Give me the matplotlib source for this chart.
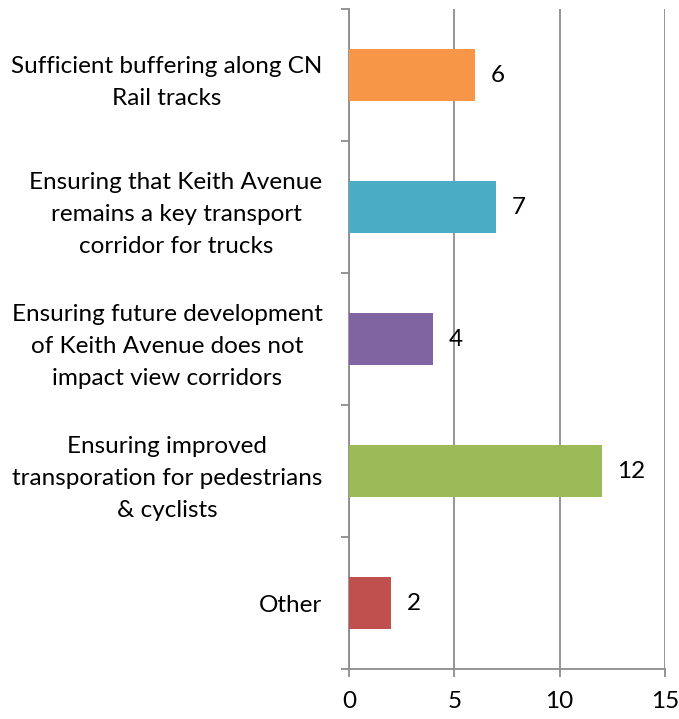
import matplotlib.pyplot as plt
import numpy as np

categories = [
    "Sufficient buffering along CN\nRail tracks",
    "Ensuring that Keith Avenue\nremains a key transport\ncorridor for trucks",
    "Ensuring future development\nof Keith Avenue does not\nimpact view corridors",
    "Ensuring improved\ntransporation for pedestrians\n& cyclists",
    "Other",
]
counts = [6, 7, 4, 12, 2]
colors = ["#F79646", "#4BACC6", "#8064A2", "#9BBB59", "#C0504D"]
x_ticks = [0, 5, 10, 15]


def main():
    plt.rcParams["font.family"] = ["Lato", "DejaVu Sans"]
    fig = plt.figure(figsize=(6.79, 7.19), dpi=100)
    ax = fig.add_axes([349 / 679, 1 - 669 / 719, 316 / 679, 660 / 719])

    y = np.arange(len(categories))
    ax.barh(y, counts, height=0.4, color=colors, zorder=3)
    for yi, v in zip(y, counts):
        ax.annotate(str(v), (v, yi), xytext=(11, 0), textcoords="offset points",
                    va="center", ha="left", fontsize=17.5)

    gray = "#8c8c8c"
    ax.set_xlim(0, 15)
    ax.set_ylim(len(categories) - 0.5, -0.5)
    ax.set_xticks(x_ticks)
    ax.xaxis.grid(True, color=gray, linewidth=1.3, zorder=0)
    ax.tick_params(axis="x", length=6, width=1.3, color=gray, labelsize=17.5, pad=10)

    ax.set_yticks(y)
    ax.set_yticklabels(categories, multialignment="center", linespacing=1.65)
    ax.set_yticks(np.arange(len(categories) + 1) - 0.5, minor=True)
    ax.tick_params(axis="y", which="major", length=0, labelsize=17.5, pad=19)
    ax.tick_params(axis="y", which="minor", length=6, width=1.3, color=gray)

    for side in ["top", "right"]:
        ax.spines[side].set_visible(False)
    for side in ["left", "bottom"]:
        ax.spines[side].set_color(gray)
        ax.spines[side].set_linewidth(1.3)

    fig.savefig("out.png", dpi=100)


if __name__ == "__main__":
    main()
